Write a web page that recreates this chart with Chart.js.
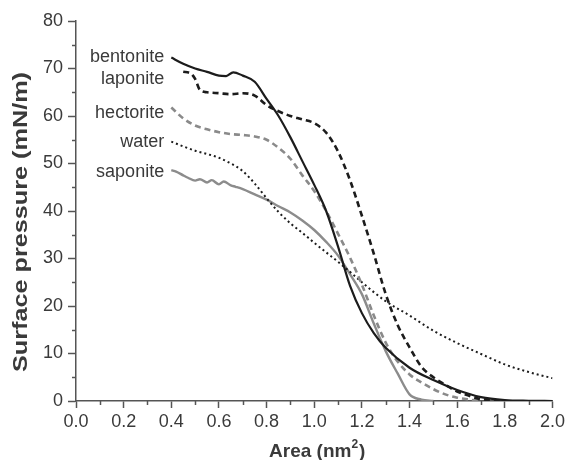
<!DOCTYPE html>
<html>
<head>
<meta charset="utf-8">
<script src="https://cdn.jsdelivr.net/npm/chart.js@4"></script>
<style>
  html, body { margin: 0; padding: 0; background: #fff; }
  #wrap { width: 568px; height: 460px; position: relative; }
</style>
</head>
<body>
<div id="wrap"><canvas id="isotherms"></canvas></div>
<script>
// ==================== DATA ====================
const seriesNames = ['bentonite', 'laponite', 'hectorite', 'water', 'saponite'];

const bentoniteArea = [0.40,0.45,0.50,0.55,0.60,0.63,0.66,0.70,0.75,0.80,0.85,0.90,0.95,1.00,1.05,1.10,1.15,1.20,1.25,1.30,1.40,1.50,1.60,1.70,1.80,1.90,2.00];
const bentonitePressure = [72.3,71.0,70.0,69.3,68.5,68.4,69.2,68.5,67.2,63.6,60.0,55.5,50.5,45.5,40.0,32.5,24.3,18.5,14.3,11.2,7.0,4.4,2.3,0.8,0.2,0.05,0];

const laponiteArea = [0.45,0.48,0.50,0.52,0.55,0.60,0.65,0.70,0.75,0.80,0.85,0.90,0.95,1.00,1.05,1.10,1.15,1.20,1.25,1.30,1.35,1.40,1.45,1.50,1.55,1.60,1.65,1.70,1.80];
const laponitePressure = [69.3,69.0,67.8,65.5,65.0,64.8,64.6,64.8,64.3,62.3,61.0,60.0,59.3,58.5,56.5,52.5,46.5,39.0,31.0,22.5,16.0,11.3,7.2,5.0,3.4,2.0,1.1,0.4,0];

const hectoriteArea = [0.40,0.45,0.50,0.55,0.60,0.65,0.70,0.75,0.80,0.85,0.90,0.95,1.00,1.05,1.10,1.15,1.20,1.25,1.30,1.35,1.40,1.45,1.50,1.55,1.60,1.65,1.70];
const hectoritePressure = [61.8,59.5,58.0,57.2,56.6,56.2,56.0,55.7,55.0,53.3,51.0,47.5,44.2,40.0,35.2,30.2,24.5,18.0,12.3,8.3,5.6,3.9,2.5,1.4,0.7,0.3,0];

const waterArea = [0.40,0.45,0.50,0.55,0.60,0.65,0.70,0.75,0.80,0.85,0.90,0.95,1.00,1.05,1.10,1.15,1.20,1.30,1.40,1.50,1.60,1.70,1.80,1.90,2.00];
const waterPressure = [54.6,53.6,52.7,52.0,51.2,50.0,48.4,45.8,42.7,39.8,37.4,35.4,33.3,31.3,29.3,27.2,25.0,21.0,18.0,14.8,12.2,9.9,7.7,6.1,4.8];

const saponiteArea = [0.40,0.42,0.45,0.47,0.50,0.52,0.55,0.57,0.60,0.62,0.65,0.67,0.70,0.75,0.80,0.85,0.90,0.95,1.00,1.05,1.10,1.15,1.20,1.25,1.30,1.35,1.40,1.45,1.50];
const saponitePressure = [48.6,48.3,47.5,47.0,46.4,46.7,46.0,46.5,45.6,46.2,45.4,45.1,44.6,43.5,42.4,41.0,39.7,38.0,36.0,33.5,30.6,26.7,22.5,16.3,10.5,5.8,1.4,0.3,0];

const xTickLabels = ['0.0','0.2','0.4','0.6','0.8','1.0','1.2','1.4','1.6','1.8','2.0'];
const yTickLabels = ['0','10','20','30','40','50','60','70','80'];

// where each curve name sits (area, pressure)
const nameAnchorArea = 0.37;
const nameAnchorPressure = [72.4, 67.8, 60.6, 54.5, 48.2];

// ==================== HELPERS ====================
function toPoints(xs, ys) {
    return xs.map((x, i) => ({ x: x, y: ys[i] }));
}

const FONT = '"Liberation Sans", Arial, sans-serif';
const AXIS_COLOR = '#555';
const TEXT_COLOR = '#3a3a3a';

// minor ticks, curve names and axis titles
const decorPlugin = {
    id: 'decor',
    afterDraw(chart) {
        const ctx = chart.ctx;
        const xs = chart.scales.x;
        const ys = chart.scales.y;
        const area = chart.chartArea;
        ctx.save();
        ctx.strokeStyle = AXIS_COLOR;
        ctx.lineWidth = 1.5;
        // minor x ticks
        for (let v = 0.1; v < 2.0; v += 0.2) {
            const px = Math.round(xs.getPixelForValue(v)) + 0.5;
            ctx.beginPath();
            ctx.moveTo(px, area.bottom);
            ctx.lineTo(px, area.bottom + 4);
            ctx.stroke();
        }
        // minor y ticks
        for (let v = 5; v < 80; v += 10) {
            const py = Math.round(ys.getPixelForValue(v)) + 0.5;
            ctx.beginPath();
            ctx.moveTo(area.left, py);
            ctx.lineTo(area.left - 4, py);
            ctx.stroke();
        }
        // curve names
        ctx.fillStyle = TEXT_COLOR;
        ctx.font = '18px ' + FONT;
        ctx.textAlign = 'right';
        ctx.textBaseline = 'middle';
        seriesNames.forEach((name, i) => {
            ctx.fillText(name, xs.getPixelForValue(nameAnchorArea), ys.getPixelForValue(nameAnchorPressure[i]));
        });

        // x title: Area (nm²) with a raised small 2
        ctx.textAlign = 'left';
        ctx.textBaseline = 'alphabetic';
        const big = 'bold 19px ' + FONT;
        const small = 'bold 12px ' + FONT;
        ctx.font = big;
        const w1 = ctx.measureText('Area (nm').width;
        const w3 = ctx.measureText(')').width;
        ctx.font = small;
        const w2 = ctx.measureText('2').width;
        let tx = (area.left + area.right) / 2 + 3 - (w1 + w2 + w3 + 1) / 2;
        const base = 457;
        ctx.font = big;
        ctx.fillText('Area (nm', tx, base);
        tx += w1;
        ctx.font = small;
        ctx.fillText('2', tx, base - 9);
        tx += w2 + 1;
        ctx.font = big;
        ctx.fillText(')', tx, base);

        // y title, stretched along its length like the original
        ctx.font = 'bold 20px ' + FONT;
        ctx.textAlign = 'center';
        ctx.textBaseline = 'middle';
        const yTitle = 'Surface pressure (mN/m)';
        const tw = ctx.measureText(yTitle).width;
        ctx.translate(21, 222);
        ctx.rotate(-Math.PI / 2);
        ctx.scale(300 / tw, 1);
        ctx.fillText(yTitle, 0, 0);
        ctx.restore();
    }
};

// ==================== CHART ====================
const lineBase = {
    pointRadius: 0,
    fill: false,
    cubicInterpolationMode: 'monotone',
    borderCapStyle: 'butt'
};

const config = {
    type: 'line',
    data: {
        datasets: [
            Object.assign({}, lineBase, {
                label: seriesNames[0],
                data: toPoints(bentoniteArea, bentonitePressure),
                borderColor: '#1c1c1c',
                borderWidth: 2.2
            }),
            Object.assign({}, lineBase, {
                label: seriesNames[1],
                data: toPoints(laponiteArea, laponitePressure),
                borderColor: '#1c1c1c',
                borderWidth: 2.6,
                borderDash: [6, 4]
            }),
            Object.assign({}, lineBase, {
                label: seriesNames[2],
                data: toPoints(hectoriteArea, hectoritePressure),
                borderColor: '#8a8a8a',
                borderWidth: 2.6,
                borderDash: [6, 4]
            }),
            Object.assign({}, lineBase, {
                label: seriesNames[3],
                data: toPoints(waterArea, waterPressure),
                borderColor: '#1c1c1c',
                borderWidth: 2,
                borderDash: [2, 3]
            }),
            Object.assign({}, lineBase, {
                label: seriesNames[4],
                data: toPoints(saponiteArea, saponitePressure),
                borderColor: '#8c8c8c',
                borderWidth: 2.4
            })
        ]
    },
    options: {
        responsive: true,
        maintainAspectRatio: false,
        animation: false,
        layout: { padding: { top: 21, right: 14, left: 0, bottom: 0 } },
        plugins: {
            legend: { display: false },
            tooltip: { enabled: false }
        },
        scales: {
            x: {
                type: 'linear',
                min: 0,
                max: 2,
                afterFit(scale) { scale.height = 59; },
                afterBuildTicks(scale) {
                    scale.ticks = xTickLabels.map(t => ({ value: parseFloat(t) }));
                },
                grid: {
                    drawOnChartArea: false,
                    drawTicks: true,
                    tickLength: 7,
                    tickColor: AXIS_COLOR,
                    tickWidth: 1.5
                },
                border: { display: true, color: AXIS_COLOR, width: 1.5 },
                ticks: {
                    color: TEXT_COLOR,
                    font: { family: FONT, size: 18 },
                    padding: 3,
                    maxRotation: 0,
                    callback: function(value, index) {
                        return xTickLabels[index];
                    }
                }
            },
            y: {
                type: 'linear',
                min: 0,
                max: 80,
                afterFit(scale) { scale.width = 76; },
                afterBuildTicks(scale) {
                    scale.ticks = yTickLabels.map(t => ({ value: parseFloat(t) }));
                },
                grid: {
                    drawOnChartArea: false,
                    drawTicks: true,
                    tickLength: 8,
                    tickColor: AXIS_COLOR,
                    tickWidth: 1.5
                },
                border: { display: true, color: AXIS_COLOR, width: 1.5 },
                ticks: {
                    color: TEXT_COLOR,
                    font: { family: FONT, size: 18 },
                    padding: 5,
                    callback: function(value, index) {
                        return yTickLabels[index];
                    }
                }
            }
        }
    },
    plugins: [decorPlugin]
};

new Chart(document.getElementById('isotherms').getContext('2d'), config);
</script>
</body>
</html>
